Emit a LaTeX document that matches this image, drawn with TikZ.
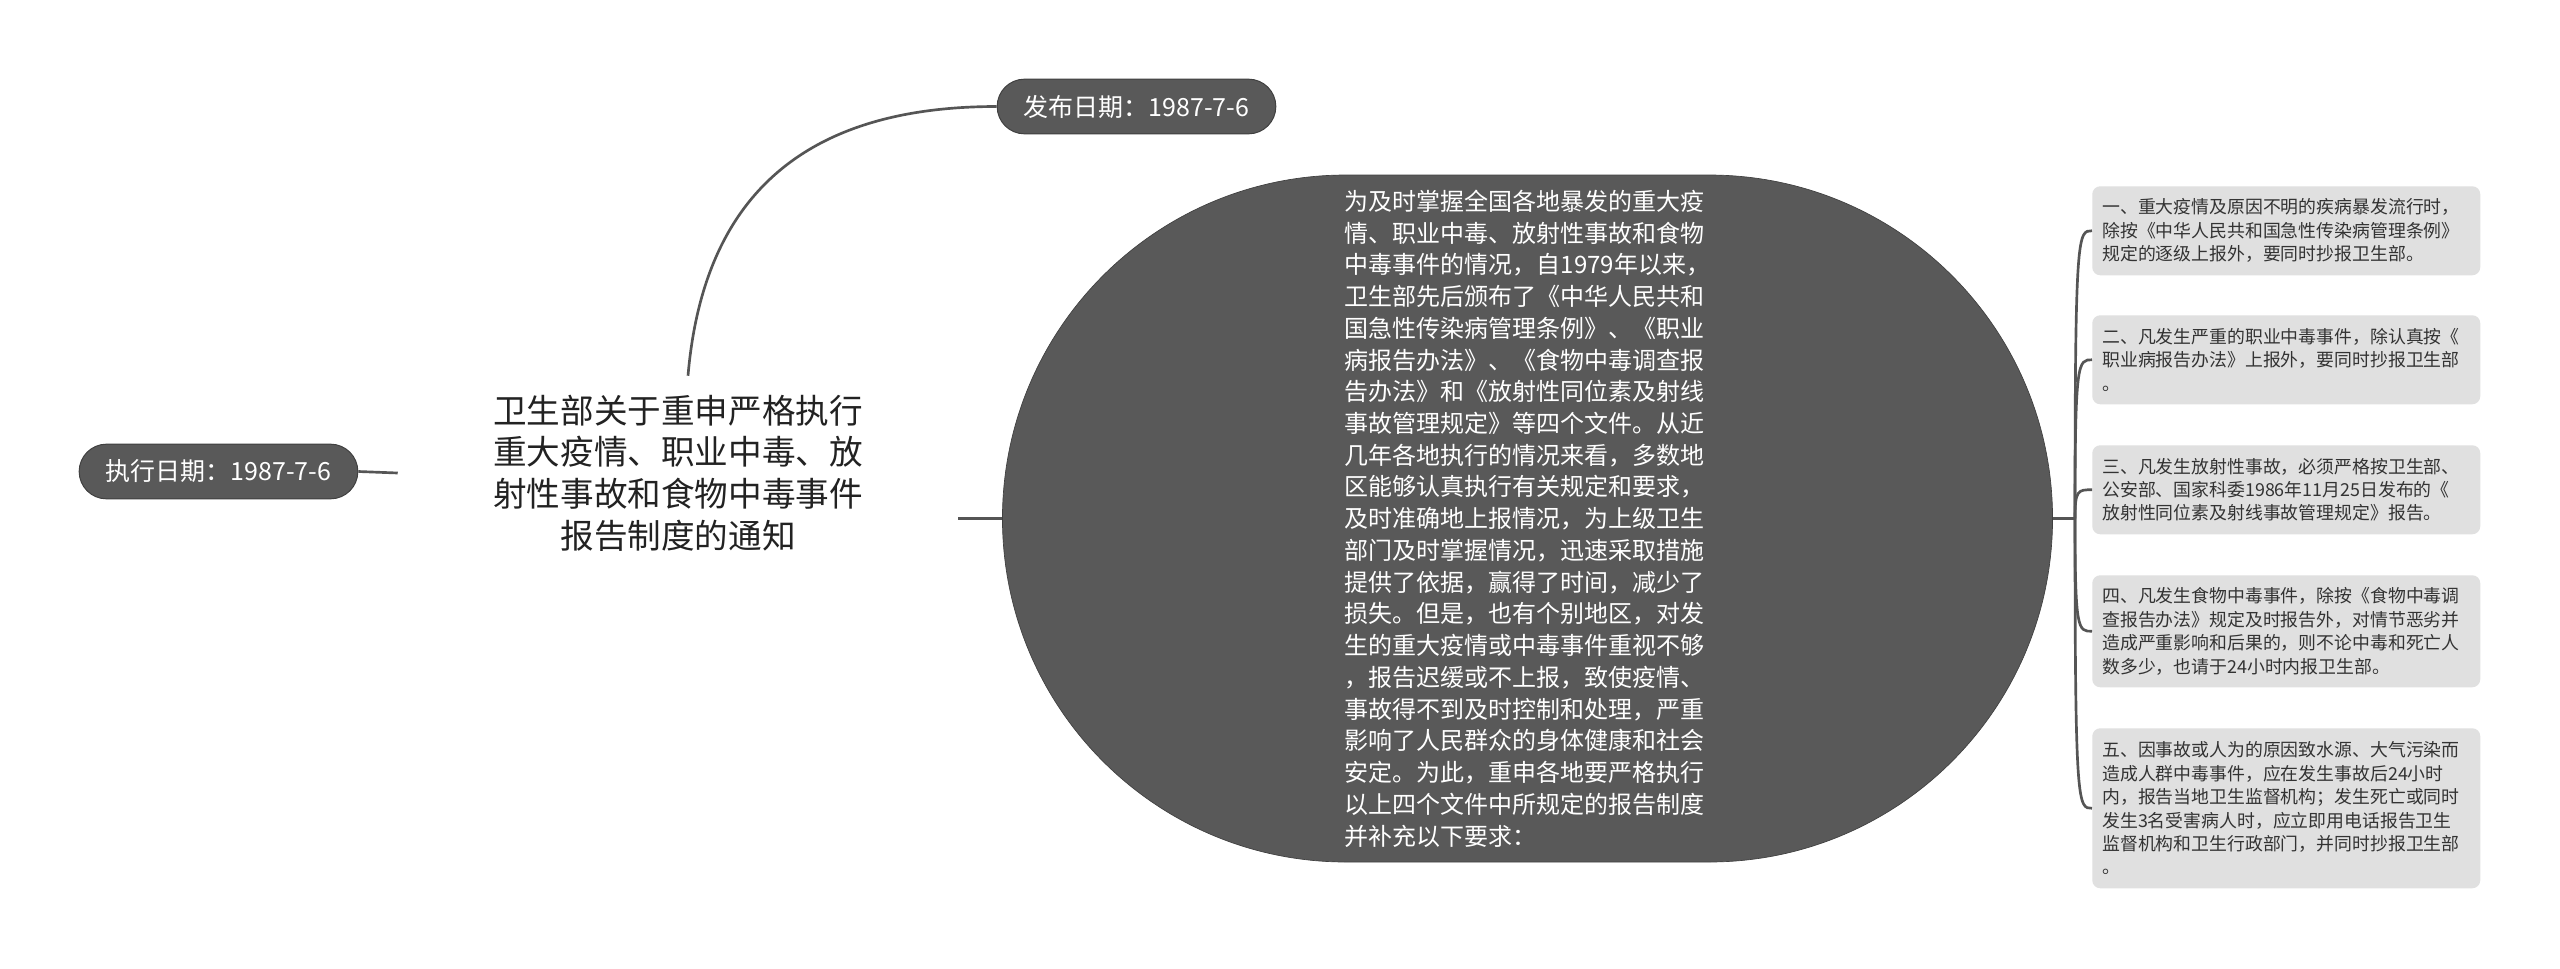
\documentclass[tikz,border=0pt]{standalone}
\usepackage{fontspec}
\setmainfont{Noto Sans CJK SC}
\usetikzlibrary{shapes.misc}
\definecolor{darkfill}{HTML}{595959}
\definecolor{darkline}{HTML}{404040}
\definecolor{boxfill}{HTML}{E0E0E0}
\definecolor{boxtext}{HTML}{333333}
\definecolor{connc}{HTML}{555555}
\definecolor{roottext}{HTML}{222222}
\begin{document}
\begin{tikzpicture}[x=0.75pt,y=-0.75pt,
  pill/.style={rounded rectangle, fill=darkfill, draw=darkline, line width=0.75pt, text=white,
    font=\fontsize{18.75pt}{22pt}\selectfont, minimum width=209pt, minimum height=41pt, inner xsep=0pt},
  bigshape/.style={rounded rectangle, fill=darkfill, draw=darkline, line width=0.5pt, text=white,
    minimum width=794.25pt, minimum height=515.25pt, align=left,
    font=\fontsize{18pt}{23.8pt}\selectfont},
  roottitle/.style={text=roottext, align=center, minimum width=420pt, minimum height=145.5pt,
    font=\fontsize{25.2pt}{31.3pt}\selectfont},
  infobox/.style={rounded corners=6pt, fill=boxfill, text=boxtext, anchor=north west,
    text width=276pt, inner xsep=7.5pt, inner ysep=0pt, align=left,
    font=\fontsize{13.4pt}{17.6pt}\selectfont},
  connline/.style={draw=connc, line width=2pt}
]
\fill[white] (0,0) rectangle (2560,968);
\useasboundingbox (0,0) rectangle (2560,968);

% nodes
\node[roottitle] (root) at (678,473) {卫生部关于重申严格执行\\重大疫情、职业中毒、放\\射性事故和食物中毒事件\\报告制度的通知};
\node[pill] (pub) at (1136.5,106.5) {发布日期：1987-7-6};
\node[pill] (exe) at (218.5,471.5) {执行日期：1987-7-6};
\node[bigshape] (big) at (1527.5,518.5) {为及时掌握全国各地暴发的重大疫\\情、职业中毒、放射性事故和食物\\中毒事件的情况，自1979年以来，\\卫生部先后颁布了《中华人民共和\\国急性传染病管理条例》、《职业\\病报告办法》、《食物中毒调查报\\告办法》和《放射性同位素及射线\\事故管理规定》等四个文件。从近\\几年各地执行的情况来看，多数地\\区能够认真执行有关规定和要求，\\及时准确地上报情况，为上级卫生\\部门及时掌握情况，迅速采取措施\\提供了依据，赢得了时间，减少了\\损失。但是，也有个别地区，对发\\生的重大疫情或中毒事件重视不够\\，报告迟缓或不上报，致使疫情、\\事故得不到及时控制和处理，严重\\影响了人民群众的身体健康和社会\\安定。为此，重申各地要严格执行\\以上四个文件中所规定的报告制度\\并补充以下要求：};

\node[infobox, minimum height=66.75pt] (b1) at (2092,186) {一、重大疫情及原因不明的疾病暴发流行时，\\除按《中华人民共和国急性传染病管理条例》\\规定的逐级上报外，要同时抄报卫生部。};
\node[infobox, minimum height=66.75pt] (b2) at (2092,315) {二、凡发生严重的职业中毒事件，除认真按《\\职业病报告办法》上报外，要同时抄报卫生部\\。};
\node[infobox, minimum height=66.75pt] (b3) at (2092,445) {三、凡发生放射性事故，必须严格按卫生部、\\公安部、国家科委1986年11月25日发布的《\\放射性同位素及射线事故管理规定》报告。};
\node[infobox, minimum height=84pt] (b4) at (2092,575) {四、凡发生食物中毒事件，除按《食物中毒调\\查报告办法》规定及时报告外，对情节恶劣并\\造成严重影响和后果的，则不论中毒和死亡人\\数多少，也请于24小时内报卫生部。};
\node[infobox, minimum height=120pt] (b5) at (2092,728) {五、因事故或人为的原因致水源、大气污染而\\造成人群中毒事件，应在发生事故后24小时\\内，报告当地卫生监督机构；发生死亡或同时\\发生3名受害病人时，应立即用电话报告卫生\\监督机构和卫生行政部门，并同时抄报卫生部\\。};

% connectors
\draw[connline] (exe.east) -- (root.west);
\draw[connline] (root.east |- big.west) -- (big.west);
\draw[connline] ([xshift=7.5pt]root.north) .. controls (703,200) and (800,106.5) .. (pub.west);
\coordinate (spine) at (2075,518.5);
\draw[connline] (big.east) -- (spine);
\foreach \b in {b1,b2,b3,b4,b5}{
  \draw[connline] (spine) .. controls (spine |- \b.west) and ([xshift=-10.5pt]\b.west) .. (\b.west);
}
\end{tikzpicture}
\end{document}
